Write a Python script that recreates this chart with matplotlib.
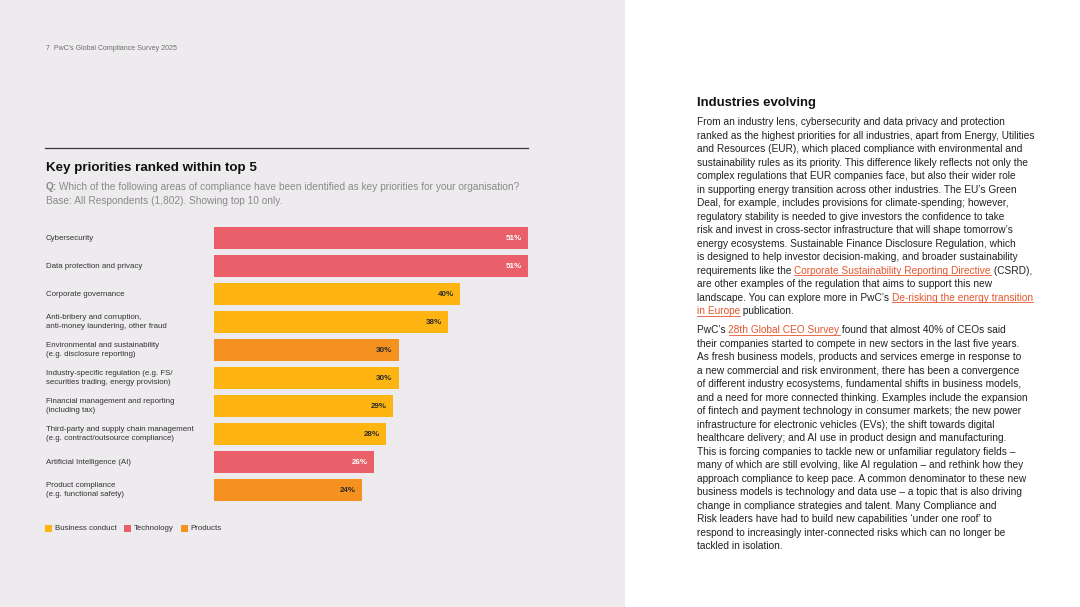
import matplotlib
matplotlib.use("Agg")
import matplotlib.pyplot as plt
from matplotlib.patches import Rectangle
from matplotlib.lines import Line2D
from matplotlib.transforms import blended_transform_factory

plt.rcParams['font.family'] = ['Liberation Sans', 'DejaVu Sans']

# ---------------- data ----------------
categories = [
    "Cybersecurity",
    "Data protection and privacy",
    "Corporate governance",
    "Anti-bribery and corruption,\nanti-money laundering, other fraud",
    "Environmental and sustainability\n(e.g. disclosure reporting)",
    "Industry-specific regulation (e.g. FS/\nsecurities trading, energy provision)",
    "Financial management and reporting\n(including tax)",
    "Third-party and supply chain management\n(e.g. contract/outsource compliance)",
    "Artificial Intelligence (AI)",
    "Product compliance\n(e.g. functional safety)",
]
values = [51, 51, 40, 38, 30, 30, 29, 28, 26, 24]
groups = ["Technology", "Technology", "Business conduct", "Business conduct", "Products",
          "Business conduct", "Business conduct", "Business conduct", "Technology", "Products"]
legend_labels = ["Business conduct", "Technology", "Products"]

header_text = "7  PwC\u2019s Global Compliance Survey 2025"
chart_title = "Key priorities ranked within top 5"
question_q = "Q:"
question_rest = " Which of the following areas of compliance have been identified as key priorities for your organisation?"
base_text = "Base: All Respondents (1,802). Showing top 10 only."

body_heading = "Industries evolving"
L = True   # link marker
para1 = [
    [("From an industry lens, cybersecurity and data privacy and protection", False)],
    [("ranked as the highest priorities for all industries, apart from Energy, Utilities", False)],
    [("and Resources (EUR), which placed compliance with environmental and", False)],
    [("sustainability rules as its priority. This difference likely reflects not only the", False)],
    [("complex regulations that EUR companies face, but also their wider role", False)],
    [("in supporting energy transition across other industries. The EU\u2019s Green", False)],
    [("Deal, for example, includes provisions for climate-spending; however,", False)],
    [("regulatory stability is needed to give investors the confidence to take", False)],
    [("risk and invest in cross-sector infrastructure that will shape tomorrow\u2019s", False)],
    [("energy ecosystems. Sustainable Finance Disclosure Regulation, which", False)],
    [("is designed to help investor decision-making, and broader sustainability", False)],
    [("requirements like the ", False), ("Corporate Sustainability Reporting Directive", L), (" (CSRD),", False)],
    [("are other examples of the regulation that aims to support this new", False)],
    [("landscape. You can explore more in PwC\u2019s ", False), ("De-risking the energy transition", L)],
    [("in Europe", L), (" publication.", False)],
]
para2 = [
    [("PwC\u2019s ", False), ("28th Global CEO Survey", L), (" found that almost 40% of CEOs said", False)],
    [("their companies started to compete in new sectors in the last five years.", False)],
    [("As fresh business models, products and services emerge in response to", False)],
    [("a new commercial and risk environment, there has been a convergence", False)],
    [("of different industry ecosystems, fundamental shifts in business models,", False)],
    [("and a need for more connected thinking. Examples include the expansion", False)],
    [("of fintech and payment technology in consumer markets; the new power", False)],
    [("infrastructure for electronic vehicles (EVs); the shift towards digital", False)],
    [("healthcare delivery; and AI use in product design and manufacturing.", False)],
    [("This is forcing companies to tackle new or unfamiliar regulatory fields \u2013", False)],
    [("many of which are still evolving, like AI regulation \u2013 and rethink how they", False)],
    [("approach compliance to keep pace. A common denominator to these new", False)],
    [("business models is technology and data use \u2013 a topic that is also driving", False)],
    [("change in compliance strategies and talent. Many Compliance and", False)],
    [("Risk leaders have had to build new capabilities \u2018under one roof\u2019 to", False)],
    [("respond to increasingly inter-connected risks which can no longer be", False)],
    [("tackled in isolation.", False)],
]

# ---------------- style ----------------
group_colors = {"Business conduct": "#FFB511", "Technology": "#E9606A", "Products": "#F5921F"}
label_colors = {"Business conduct": "#2A2A2A", "Technology": "#FFFFFF", "Products": "#2A2A2A"}
LEFT_BG = "#EEEBEE"
TEXT = "#222222"
GREY = "#8A8A8A"
LINK = "#E4572E"

W, H = 1080, 607
fig = plt.figure(figsize=(W / 100, H / 100), dpi=100)
fig.patch.set_facecolor("white")
R = fig.canvas.get_renderer()


def fx(x):
    return x / W


def fy(y):
    return 1 - y / H


def text_w(s, size, weight="normal"):
    t = fig.text(0, 0, s, fontsize=size, fontweight=weight)
    w = t.get_window_extent(renderer=R).width
    t.remove()
    return w


def fit(s, target, weight="normal"):
    return 10 * target / text_w(s, 10, weight)


def prefix_w(s, size, weight="normal"):
    if not s:
        return 0.0
    return text_w(s + ".", size, weight) - text_w(".", size, weight)


def seg_line(x, y, segs, size, base_color=TEXT):
    """segs: list of (text, is_link, weight)"""
    prefix = ""
    for txt, link, weight in segs:
        cx = x + prefix_w(prefix, size, weight)
        col = LINK if link else base_color
        t = fig.text(fx(cx), fy(y), txt, fontsize=size, color=col, fontweight=weight,
                     ha="left", va="baseline")
        if link:
            w = t.get_window_extent(renderer=R).width
            fig.add_artist(Line2D([fx(cx), fx(cx + w)], [fy(y + 1.8)] * 2,
                                  transform=fig.transFigure, color=col, lw=0.6))
        prefix += txt


# left panel background
fig.add_artist(Rectangle((0, 0), fx(625), 1, transform=fig.transFigure,
                         facecolor=LEFT_BG, edgecolor="none", zorder=-10))

# header
fig.text(fx(45.5), fy(50.5), header_text, fontsize=fit(header_text, 131), color="#6E6E6E",
         ha="left", va="baseline")

# divider rule
fig.add_artist(Line2D([fx(45), fx(528)], [fy(148)] * 2, transform=fig.transFigure,
                      color="#3A3A3A", lw=0.9))

# chart title + question
fig.text(fx(45.5), fy(171.5), chart_title, fontsize=fit(chart_title, 212, "bold"),
         fontweight="bold", color="#111111", ha="left", va="baseline")
qsize = fit(question_q + question_rest, 476)
seg_line(45.5, 190, [(question_q, False, "bold"), (question_rest, False, "normal")], qsize, GREY)
fig.text(fx(45.5), fy(204), base_text, fontsize=qsize, color=GREY, ha="left", va="baseline")

# ---------------- bar chart ----------------
n = len(categories)
ax = fig.add_axes([fx(214), fy(504), fx(528) - fx(214), (504 - 224) / H])
ax.set_xlim(0, max(values))
ax.set_ylim(n - 0.5, -0.5)
ax.axis("off")
ypos = list(range(n))
ax.barh(ypos, values, height=0.79, color=[group_colors[g] for g in groups], edgecolor="none")

lab_size = fit("Third-party and supply chain management", 149)
val_size = fit("51%", 16, "bold")
tr = blended_transform_factory(fig.transFigure, ax.transData)
for i, (cat, v, g) in enumerate(zip(categories, values, groups)):
    ax.text(fx(45.5), i, cat, transform=tr, fontsize=lab_size, color="#333333",
            ha="left", va="center", linespacing=1.25)
    ax.annotate(f"{v}%", xy=(v, i), xytext=(-4.5, 0), textcoords="offset points",
                ha="right", va="center", fontsize=val_size, fontweight="bold",
                color=label_colors[g])

# legend
leg_size = fit("Business conduct", 62)
lx = 45
for lab in legend_labels:
    fig.add_artist(Rectangle((fx(lx), fy(531.5)), 7 / W, 7 / H, transform=fig.transFigure,
                             facecolor=group_colors[lab], edgecolor="none"))
    fig.text(fx(lx + 10), fy(528), lab, fontsize=leg_size, color="#333333",
             ha="left", va="center")
    lx += 10 + text_w(lab, leg_size) + 7

# ---------------- right column text ----------------
fig.text(fx(697), fy(106), body_heading, fontsize=fit(body_heading, 120, "bold"),
         fontweight="bold", color="#111111", ha="left", va="baseline")
bsize = fit("ranked as the highest priorities for all industries, apart from Energy, Utilities", 338)
y = 125.3
for line in para1:
    seg_line(697, y, [(t, lk, "normal") for t, lk in line], bsize)
    y += 13.48
y = 333.3
for line in para2:
    seg_line(697, y, [(t, lk, "normal") for t, lk in line], bsize)
    y += 13.48

fig.savefig("out.png", dpi=100, facecolor=fig.get_facecolor())
